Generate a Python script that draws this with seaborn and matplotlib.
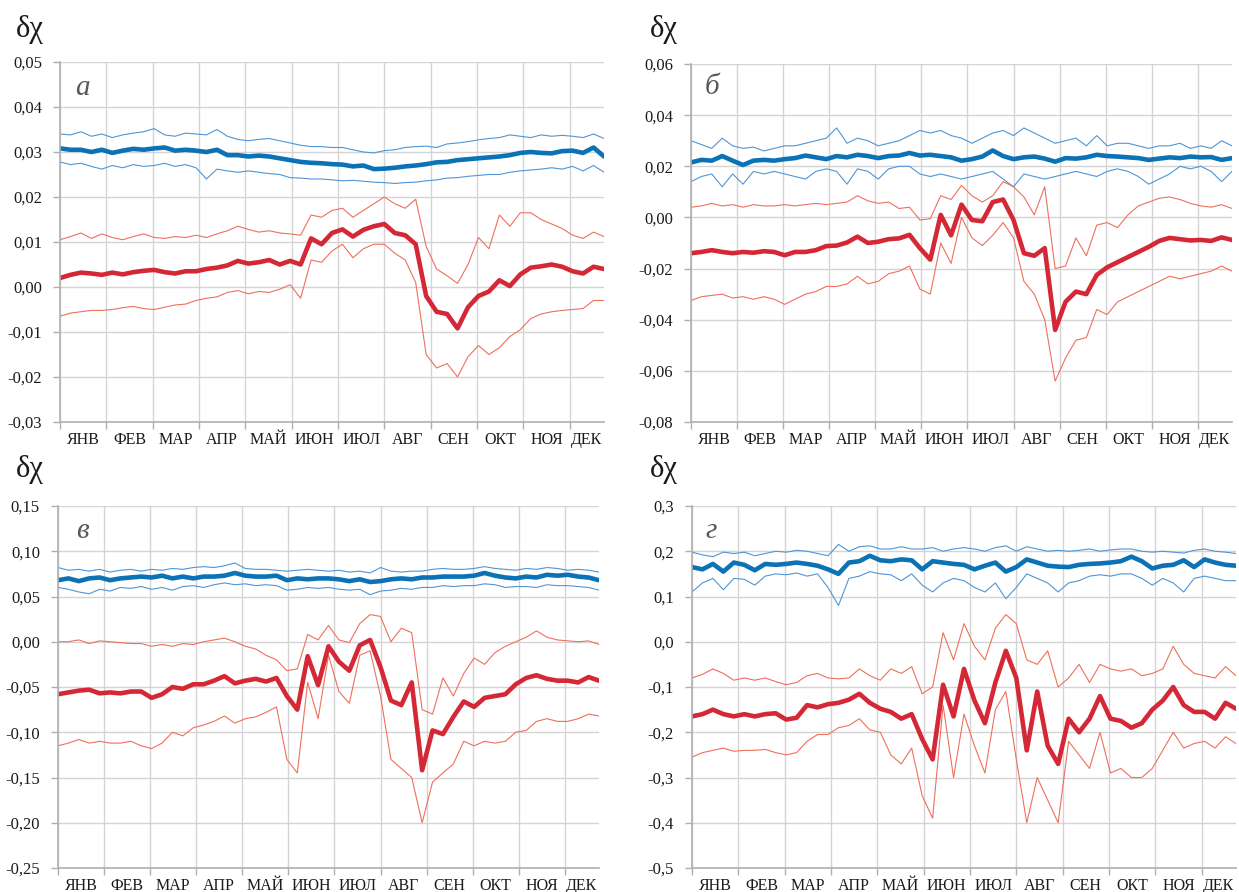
import matplotlib
matplotlib.use("Agg")
import matplotlib.pyplot as plt
import seaborn as sns
import numpy as np
from matplotlib.ticker import FixedLocator, FixedFormatter, NullFormatter

# ---------------- data ----------------
days = list(range(0, 365, 7))  # sample every 7th day of the year (53 points)
months = ["ЯНВ", "ФЕВ", "МАР", "АПР", "МАЙ", "ИЮН", "ИЮЛ", "АВГ", "СЕН", "ОКТ", "НОЯ", "ДЕК"]
month_ticks = [0, 31, 62, 93, 124, 155, 186, 217, 248, 279, 310, 341]
month_label_pos = [15.5, 46.5, 77.5, 108.5, 139.5, 170.5, 201.5, 232.5, 263.5, 294.5, 325.5, 352.5]
panel_letters = ["а", "б", "в", "г"]
ylabel_text = "δχ"

# panel а
a_ticks = [-0.03, -0.02, -0.01, 0.00, 0.01, 0.02, 0.03, 0.04, 0.05]
a_ticklabels = ["-0,03", "-0,02", "-0,01", "0,00", "0,01", "0,02", "0,03", "0,04", "0,05"]
a_blue = [0.0308, 0.0305, 0.0305, 0.0300, 0.0305, 0.0298, 0.0303, 0.0307, 0.0305, 0.0308, 0.0310, 0.0303, 0.0305,
          0.0303, 0.0300, 0.0305, 0.0293, 0.0293, 0.0290, 0.0292, 0.0290, 0.0286, 0.0282, 0.0278, 0.0276, 0.0275,
          0.0273, 0.0272, 0.0268, 0.0270, 0.0262, 0.0263, 0.0265, 0.0268, 0.0270, 0.0273, 0.0277, 0.0278, 0.0282,
          0.0284, 0.0286, 0.0288, 0.0290, 0.0293, 0.0298, 0.0300, 0.0298, 0.0297, 0.0302, 0.0303, 0.0298, 0.0310, 0.0290]
a_blue_hi = [0.0340, 0.0338, 0.0345, 0.0335, 0.0340, 0.0332, 0.0338, 0.0342, 0.0345, 0.0352, 0.0338, 0.0335, 0.0342,
             0.0340, 0.0338, 0.0350, 0.0335, 0.0328, 0.0325, 0.0328, 0.0330, 0.0325, 0.0320, 0.0315, 0.0312, 0.0312,
             0.0310, 0.0310, 0.0305, 0.0300, 0.0298, 0.0303, 0.0305, 0.0310, 0.0312, 0.0313, 0.0310, 0.0318, 0.0320,
             0.0323, 0.0327, 0.0330, 0.0332, 0.0338, 0.0335, 0.0332, 0.0338, 0.0335, 0.0337, 0.0335, 0.0332, 0.0340, 0.0330]
a_blue_lo = [0.0278, 0.0272, 0.0275, 0.0268, 0.0262, 0.0270, 0.0265, 0.0272, 0.0268, 0.0270, 0.0275, 0.0268, 0.0272,
             0.0265, 0.0240, 0.0262, 0.0258, 0.0255, 0.0258, 0.0255, 0.0252, 0.0250, 0.0243, 0.0242, 0.0240, 0.0240,
             0.0238, 0.0236, 0.0237, 0.0235, 0.0233, 0.0232, 0.0230, 0.0232, 0.0233, 0.0236, 0.0238, 0.0242, 0.0243,
             0.0246, 0.0248, 0.0250, 0.0250, 0.0255, 0.0258, 0.0260, 0.0262, 0.0265, 0.0262, 0.0268, 0.0258, 0.0270, 0.0255]
a_red = [0.0020, 0.0027, 0.0032, 0.0030, 0.0027, 0.0032, 0.0028, 0.0033, 0.0036, 0.0038, 0.0033, 0.0030, 0.0035,
         0.0035, 0.0040, 0.0043, 0.0048, 0.0058, 0.0052, 0.0055, 0.0060, 0.0050, 0.0058, 0.0050, 0.0108, 0.0095,
         0.0120, 0.0128, 0.0112, 0.0127, 0.0135, 0.0140, 0.0120, 0.0115, 0.0095, -0.0020, -0.0055, -0.0060, -0.0092,
         -0.0045, -0.0020, -0.0010, 0.0015, 0.0002, 0.0028, 0.0043, 0.0046, 0.0050, 0.0045, 0.0035, 0.0030, 0.0045, 0.0040]
a_red_hi = [0.0105, 0.0112, 0.0120, 0.0108, 0.0118, 0.0110, 0.0105, 0.0112, 0.0118, 0.0110, 0.0108, 0.0112, 0.0110,
            0.0115, 0.0110, 0.0118, 0.0125, 0.0135, 0.0128, 0.0122, 0.0125, 0.0120, 0.0118, 0.0115, 0.0160, 0.0155,
            0.0170, 0.0175, 0.0155, 0.0170, 0.0185, 0.0200, 0.0185, 0.0175, 0.0195, 0.0090, 0.0040, 0.0025, 0.0008,
            0.0050, 0.0110, 0.0085, 0.0160, 0.0135, 0.0165, 0.0165, 0.0150, 0.0140, 0.0130, 0.0115, 0.0108, 0.0122, 0.0112]
a_red_lo = [-0.0065, -0.0058, -0.0055, -0.0052, -0.0052, -0.0050, -0.0046, -0.0043, -0.0048, -0.0050, -0.0045, -0.0040,
            -0.0038, -0.0030, -0.0025, -0.0022, -0.0012, -0.0008, -0.0015, -0.0010, -0.0012, -0.0005, 0.0005, -0.0025,
            0.0060, 0.0055, 0.0080, 0.0095, 0.0065, 0.0085, 0.0095, 0.0095, 0.0075, 0.0060, 0.0010, -0.0150, -0.0180,
            -0.0170, -0.0200, -0.0155, -0.0130, -0.0150, -0.0135, -0.0110, -0.0095, -0.0070, -0.0060, -0.0055, -0.0052,
            -0.0050, -0.0048, -0.0030, -0.0030]

# panel б
b_ticks = [-0.08, -0.06, -0.04, -0.02, 0.00, 0.02, 0.04, 0.06]
b_ticklabels = ["-0,08", "-0,06", "-0,04", "-0,02", "0,00", "0,02", "0,04", "0,06"]
b_blue = [0.0215, 0.0225, 0.0222, 0.0240, 0.0222, 0.0205, 0.0222, 0.0225, 0.0222, 0.0228, 0.0232, 0.0242, 0.0235,
          0.0228, 0.0240, 0.0235, 0.0245, 0.0240, 0.0232, 0.0240, 0.0242, 0.0252, 0.0242, 0.0245, 0.0240, 0.0235,
          0.0222, 0.0228, 0.0238, 0.0262, 0.0240, 0.0228, 0.0235, 0.0238, 0.0230, 0.0218, 0.0232, 0.0230, 0.0235,
          0.0245, 0.0240, 0.0238, 0.0235, 0.0232, 0.0225, 0.0230, 0.0235, 0.0232, 0.0238, 0.0235, 0.0236, 0.0225, 0.0232]
b_blue_hi = [0.030, 0.0285, 0.027, 0.031, 0.028, 0.027, 0.0275, 0.026, 0.027, 0.028, 0.028, 0.029, 0.030, 0.031,
             0.035, 0.029, 0.031, 0.030, 0.028, 0.029, 0.030, 0.032, 0.034, 0.033, 0.034, 0.032, 0.031, 0.029, 0.031,
             0.033, 0.034, 0.032, 0.035, 0.033, 0.031, 0.029, 0.030, 0.031, 0.028, 0.032, 0.028, 0.029, 0.029, 0.028,
             0.027, 0.028, 0.028, 0.029, 0.027, 0.028, 0.027, 0.030, 0.028]
b_blue_lo = [0.014, 0.016, 0.017, 0.012, 0.017, 0.013, 0.018, 0.017, 0.018, 0.017, 0.016, 0.015, 0.018, 0.019, 0.018,
             0.013, 0.019, 0.018, 0.015, 0.019, 0.020, 0.020, 0.017, 0.016, 0.017, 0.016, 0.015, 0.016, 0.017, 0.018,
             0.015, 0.012, 0.017, 0.016, 0.015, 0.016, 0.017, 0.018, 0.017, 0.016, 0.018, 0.019, 0.018, 0.016, 0.013,
             0.015, 0.017, 0.020, 0.019, 0.020, 0.018, 0.014, 0.018]
b_red = [-0.0140, -0.0135, -0.0128, -0.0135, -0.0140, -0.0135, -0.0138, -0.0132, -0.0135, -0.0148, -0.0135, -0.0135,
         -0.0128, -0.0112, -0.0110, -0.0098, -0.0075, -0.0100, -0.0095, -0.0085, -0.0082, -0.0068, -0.0120, -0.0165,
         0.0010, -0.0070, 0.0050, -0.0010, -0.0015, 0.0060, 0.0070, -0.0010, -0.0140, -0.0150, -0.0120, -0.0440,
         -0.0330, -0.0290, -0.0300, -0.0225, -0.0195, -0.0175, -0.0155, -0.0135, -0.0115, -0.0092, -0.0080, -0.0085,
         -0.0090, -0.0088, -0.0092, -0.0078, -0.0088]
b_red_hi = [0.0040, 0.0045, 0.0055, 0.0045, 0.0050, 0.0040, 0.0050, 0.0045, 0.0045, 0.0050, 0.0045, 0.0050, 0.0055,
            0.0050, 0.0055, 0.0060, 0.0085, 0.0065, 0.0055, 0.0060, 0.0035, 0.0040, -0.0010, -0.0005, 0.0085, 0.0070,
            0.0125, 0.0085, 0.0060, 0.0085, 0.0140, 0.0120, 0.0080, 0.0010, 0.0120, -0.0200, -0.0190, -0.0080, -0.0150,
            -0.0030, -0.0020, -0.0040, 0.0010, 0.0045, 0.0060, 0.0075, 0.0080, 0.0070, 0.0055, 0.0045, 0.0040, 0.0050, 0.0035]
b_red_lo = [-0.0325, -0.031, -0.0305, -0.030, -0.0315, -0.031, -0.032, -0.031, -0.032, -0.034, -0.032, -0.030, -0.029,
            -0.027, -0.027, -0.026, -0.023, -0.026, -0.025, -0.022, -0.021, -0.019, -0.028, -0.030, -0.010, -0.018,
            0.000, -0.008, -0.011, -0.007, -0.002, -0.008, -0.025, -0.030, -0.040, -0.064, -0.055, -0.048, -0.047,
            -0.036, -0.038, -0.033, -0.031, -0.029, -0.027, -0.025, -0.023, -0.024, -0.023, -0.022, -0.021, -0.019, -0.021]

# panel в
c_ticks = [-0.25, -0.20, -0.15, -0.10, -0.05, 0.00, 0.05, 0.10, 0.15]
c_ticklabels = ["-0,25", "-0,20", "-0,15", "-0,10", "-0,05", "0,00", "0,05", "0,10", "0,15"]
c_blue = [0.068, 0.070, 0.067, 0.070, 0.071, 0.068, 0.070, 0.071, 0.072, 0.071, 0.073, 0.070, 0.072, 0.070, 0.072,
          0.072, 0.073, 0.076, 0.073, 0.072, 0.072, 0.073, 0.068, 0.070, 0.069, 0.070, 0.070, 0.069, 0.067, 0.069,
          0.066, 0.067, 0.069, 0.070, 0.069, 0.071, 0.071, 0.072, 0.072, 0.072, 0.073, 0.076, 0.073, 0.071, 0.070,
          0.072, 0.071, 0.074, 0.073, 0.074, 0.072, 0.071, 0.068]
c_blue_hi = [0.082, 0.079, 0.080, 0.078, 0.080, 0.077, 0.079, 0.080, 0.078, 0.080, 0.079, 0.081, 0.080, 0.082, 0.083,
             0.082, 0.084, 0.087, 0.081, 0.080, 0.080, 0.079, 0.078, 0.079, 0.080, 0.079, 0.078, 0.079, 0.077, 0.078,
             0.076, 0.082, 0.078, 0.077, 0.078, 0.078, 0.080, 0.081, 0.080, 0.080, 0.081, 0.083, 0.081, 0.080, 0.079,
             0.081, 0.080, 0.082, 0.081, 0.079, 0.080, 0.079, 0.077]
c_blue_lo = [0.060, 0.058, 0.055, 0.053, 0.058, 0.056, 0.060, 0.059, 0.061, 0.058, 0.060, 0.057, 0.061, 0.062, 0.060,
             0.063, 0.065, 0.063, 0.064, 0.062, 0.063, 0.062, 0.057, 0.058, 0.060, 0.059, 0.060, 0.058, 0.057, 0.058,
             0.052, 0.056, 0.057, 0.059, 0.058, 0.060, 0.060, 0.062, 0.061, 0.062, 0.062, 0.064, 0.063, 0.060, 0.061,
             0.061, 0.060, 0.063, 0.062, 0.062, 0.061, 0.060, 0.057]
c_red = [-0.058, -0.056, -0.054, -0.053, -0.057, -0.056, -0.057, -0.055, -0.055, -0.062, -0.058, -0.050, -0.052,
         -0.047, -0.047, -0.043, -0.038, -0.046, -0.043, -0.041, -0.044, -0.040, -0.060, -0.075, -0.016, -0.048,
         -0.005, -0.022, -0.032, -0.004, 0.002, -0.028, -0.065, -0.070, -0.045, -0.142, -0.098, -0.102, -0.083,
         -0.066, -0.072, -0.062, -0.060, -0.058, -0.047, -0.040, -0.037, -0.041, -0.043, -0.043, -0.045, -0.039, -0.043]
c_red_hi = [0.000, 0.000, 0.002, -0.002, 0.001, 0.000, -0.001, -0.002, -0.002, -0.005, -0.003, -0.005, -0.002, -0.003,
            0.000, 0.002, 0.004, 0.000, -0.005, -0.008, -0.015, -0.020, -0.032, -0.030, 0.008, 0.002, 0.018, 0.002,
            -0.001, 0.020, 0.030, 0.028, 0.000, 0.015, 0.010, -0.075, -0.080, -0.040, -0.060, -0.035, -0.018, -0.025,
            -0.012, -0.005, 0.000, 0.005, 0.012, 0.005, 0.002, 0.001, 0.000, 0.001, -0.003]
c_red_lo = [-0.115, -0.112, -0.108, -0.112, -0.110, -0.112, -0.112, -0.110, -0.115, -0.118, -0.112, -0.100, -0.104,
            -0.095, -0.092, -0.088, -0.082, -0.090, -0.085, -0.083, -0.078, -0.072, -0.130, -0.145, -0.045, -0.085,
            -0.015, -0.055, -0.068, -0.015, -0.010, -0.060, -0.130, -0.140, -0.150, -0.200, -0.155, -0.145, -0.135,
            -0.110, -0.115, -0.110, -0.112, -0.110, -0.100, -0.098, -0.088, -0.085, -0.088, -0.088, -0.085, -0.080, -0.082]

# panel г
d_ticks = [-0.5, -0.4, -0.3, -0.2, -0.1, 0.0, 0.1, 0.2, 0.3]
d_ticklabels = ["-0,5", "-0,4", "-0,3", "-0,2", "-0,1", "0,0", "0,1", "0,2", "0,3"]
d_blue = [0.165, 0.160, 0.172, 0.155, 0.175, 0.170, 0.158, 0.172, 0.170, 0.172, 0.175, 0.172, 0.168, 0.160, 0.150,
          0.175, 0.178, 0.190, 0.180, 0.178, 0.182, 0.180, 0.160, 0.178, 0.175, 0.172, 0.170, 0.160, 0.168, 0.175,
          0.155, 0.165, 0.182, 0.175, 0.168, 0.166, 0.165, 0.170, 0.172, 0.173, 0.175, 0.178, 0.188, 0.178, 0.162,
          0.168, 0.170, 0.180, 0.165, 0.182, 0.175, 0.170, 0.168]
d_blue_hi = [0.198, 0.192, 0.188, 0.198, 0.195, 0.198, 0.190, 0.195, 0.200, 0.198, 0.202, 0.200, 0.195, 0.190, 0.215,
             0.200, 0.210, 0.212, 0.205, 0.205, 0.210, 0.205, 0.205, 0.208, 0.200, 0.205, 0.208, 0.205, 0.200, 0.208,
             0.212, 0.200, 0.210, 0.205, 0.200, 0.202, 0.200, 0.202, 0.205, 0.200, 0.203, 0.205, 0.205, 0.200, 0.198,
             0.200, 0.198, 0.196, 0.202, 0.205, 0.200, 0.198, 0.195]
d_blue_lo = [0.110, 0.130, 0.140, 0.115, 0.140, 0.138, 0.125, 0.145, 0.150, 0.148, 0.152, 0.145, 0.150, 0.120, 0.080,
             0.140, 0.145, 0.155, 0.150, 0.148, 0.135, 0.150, 0.125, 0.110, 0.130, 0.140, 0.135, 0.120, 0.110, 0.130,
             0.095, 0.120, 0.150, 0.140, 0.130, 0.110, 0.130, 0.135, 0.145, 0.148, 0.145, 0.150, 0.150, 0.140, 0.125,
             0.140, 0.130, 0.110, 0.140, 0.145, 0.140, 0.135, 0.135]
d_red = [-0.165, -0.160, -0.150, -0.160, -0.165, -0.160, -0.165, -0.160, -0.158, -0.172, -0.168, -0.140, -0.145,
         -0.138, -0.135, -0.128, -0.115, -0.135, -0.148, -0.155, -0.170, -0.160, -0.215, -0.260, -0.095, -0.165,
         -0.060, -0.130, -0.180, -0.090, -0.020, -0.080, -0.240, -0.110, -0.230, -0.270, -0.170, -0.200, -0.170,
         -0.120, -0.170, -0.175, -0.190, -0.180, -0.150, -0.130, -0.100, -0.140, -0.155, -0.155, -0.170, -0.135, -0.148]
d_red_hi = [-0.080, -0.072, -0.060, -0.070, -0.085, -0.080, -0.085, -0.080, -0.088, -0.095, -0.090, -0.075, -0.070,
            -0.080, -0.082, -0.080, -0.060, -0.075, -0.085, -0.060, -0.070, -0.055, -0.115, -0.100, 0.020, -0.040,
            0.040, -0.010, -0.040, 0.030, 0.060, 0.040, -0.040, -0.050, -0.020, -0.100, -0.080, -0.050, -0.090,
            -0.050, -0.060, -0.065, -0.060, -0.075, -0.070, -0.060, -0.010, -0.050, -0.070, -0.075, -0.080, -0.055, -0.075]
d_red_lo = [-0.255, -0.245, -0.240, -0.235, -0.242, -0.240, -0.240, -0.238, -0.245, -0.250, -0.245, -0.220, -0.205,
            -0.205, -0.190, -0.185, -0.170, -0.195, -0.200, -0.250, -0.270, -0.235, -0.340, -0.390, -0.140, -0.300,
            -0.160, -0.230, -0.290, -0.150, -0.110, -0.260, -0.400, -0.300, -0.350, -0.400, -0.220, -0.250, -0.280,
            -0.200, -0.290, -0.280, -0.300, -0.300, -0.280, -0.240, -0.200, -0.235, -0.225, -0.220, -0.235, -0.210, -0.225]

# ---------------- style ----------------
sns.set_theme(style="white")
plt.rcParams["font.family"] = ["Liberation Serif", "DejaVu Serif"]

BLUE = "#0b72b5"
BLUE_THIN = "#4f95d6"
RED = "#d42836"
RED_THIN = "#ef6f5c"
GRID = "#d4d4d4"
AXIS = "#b0b0b0"

fig = plt.figure(figsize=(12.39, 8.92), dpi=100)

W, H = 1239.0, 892.0
boxes = [(60, 604, 62, 422), (691, 1232, 64, 422), (58, 599, 506, 868), (692, 1236, 506, 868)]
ylab_xy = [(30, 30), (664, 30), (30, 470), (664, 470)]
panels = [
    (a_ticks, a_ticklabels, a_blue, a_blue_hi, a_blue_lo, a_red, a_red_hi, a_red_lo),
    (b_ticks, b_ticklabels, b_blue, b_blue_hi, b_blue_lo, b_red, b_red_hi, b_red_lo),
    (c_ticks, c_ticklabels, c_blue, c_blue_hi, c_blue_lo, c_red, c_red_hi, c_red_lo),
    (d_ticks, d_ticklabels, d_blue, d_blue_hi, d_blue_lo, d_red, d_red_hi, d_red_lo),
]
letter_pos = [(0.042, 0.928), (0.039, 0.936), (0.045, 0.931), (0.035, 0.931)]

for i, ((l, r, t, b), p) in enumerate(zip(boxes, panels)):
    ticks, ticklabels, bl, blh, bll, rd, rdh, rdl = p
    ax = fig.add_axes([l / W, 1 - b / H, (r - l) / W, (b - t) / H])
    for vals, col, lw in [(blh, BLUE_THIN, 0.8), (bll, BLUE_THIN, 0.8), (bl, BLUE, 3.3),
                          (rdh, RED_THIN, 0.8), (rdl, RED_THIN, 0.8), (rd, RED, 3.3)]:
        sns.lineplot(x=days, y=vals, ax=ax, color=col, linewidth=lw, legend=False, sort=False)
    ax.set_xlim(0, 364)
    ax.set_ylim(ticks[0], ticks[-1])
    ax.yaxis.set_major_locator(FixedLocator(ticks))
    ax.yaxis.set_major_formatter(FixedFormatter(ticklabels))
    ax.xaxis.set_major_locator(FixedLocator(month_ticks))
    ax.xaxis.set_major_formatter(NullFormatter())
    ax.xaxis.set_minor_locator(FixedLocator(month_label_pos))
    ax.xaxis.set_minor_formatter(FixedFormatter(months))
    ax.tick_params(axis="x", which="major", direction="out", length=5, width=1, color=AXIS, bottom=True)
    ax.tick_params(axis="x", which="minor", length=0, pad=7, labelsize=11.5, labelcolor="#1a1a1a", bottom=True)
    ax.tick_params(axis="y", which="major", direction="out", length=5, width=1, color=AXIS, left=True,
                   pad=8, labelsize=12, labelcolor="#1a1a1a")
    ax.grid(True, which="major", axis="both", color=GRID, linewidth=1.0)
    ax.set_axisbelow(True)
    for s in ["top", "right"]:
        ax.spines[s].set_visible(False)
    for s in ["left", "bottom"]:
        ax.spines[s].set_color(AXIS)
        ax.spines[s].set_linewidth(1.2)
    ax.set_xlabel("")
    ax.set_ylabel("")
    ax.text(letter_pos[i][0], letter_pos[i][1], panel_letters[i], transform=ax.transAxes,
            fontsize=21, fontstyle="italic", color="#595959", ha="center", va="center")
    # δχ label above the y axis
    fig.text(ylab_xy[i][0] / W, 1 - ylab_xy[i][1] / H, ylabel_text,
             fontsize=22, color="#1a1a1a", ha="center", va="center")

fig.savefig("out.png", dpi=100)
